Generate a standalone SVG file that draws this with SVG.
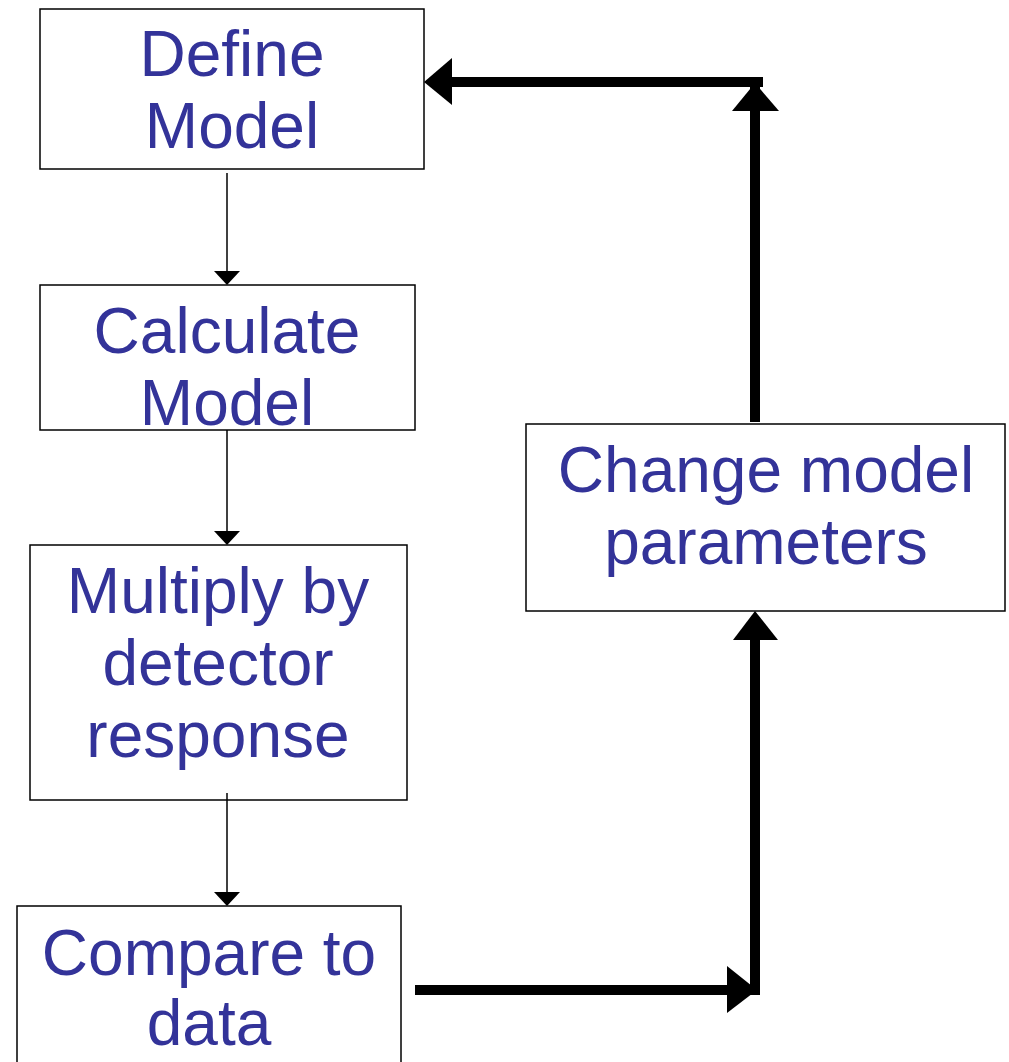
<svg xmlns="http://www.w3.org/2000/svg" width="1009" height="1062" viewBox="0 0 1009 1062">
<style>
.box{fill:#fff;stroke:#000;stroke-width:1.5}
.t{font-family:"Liberation Sans",Arial,sans-serif;font-size:64px;fill:#333399;text-anchor:middle}
.thin{stroke:#000;stroke-width:1.5;fill:none}
.thick{stroke:#000;stroke-width:10;fill:none}
</style>
<rect width="1009" height="1062" fill="#fff"/>
<g id="define"><rect class="box" x="40" y="9" width="384" height="160"/><text class="t" x="232" y="76">Define</text><text class="t" x="232" y="148">Model</text></g>
<g id="calculate"><rect class="box" x="40" y="285" width="375" height="145"/><text class="t" x="227" y="353">Calculate</text><text class="t" x="227" y="425">Model</text></g>
<g id="multiply"><rect class="box" x="30" y="545" width="377" height="255"/><text class="t" x="218" y="613">Multiply by</text><text class="t" x="218" y="685">detector</text><text class="t" x="218" y="757">response</text></g>
<g id="compare"><rect class="box" x="17" y="906" width="384" height="170"/><text class="t" x="209" y="975">Compare to</text><text class="t" x="209" y="1045">data</text></g>
<g id="change"><rect class="box" x="526" y="424" width="479" height="187"/><text class="t" x="766" y="492">Change model</text><text class="t" x="766" y="564">parameters</text></g>
<g id="connectors">
<line class="thin" x1="227" y1="173" x2="227" y2="272"/><polygon points="214,271 240,271 227,285"/>
<line class="thin" x1="227" y1="430" x2="227" y2="532"/><polygon points="214,531 240,531 227,545"/>
<line class="thin" x1="227" y1="793" x2="227" y2="893"/><polygon points="214,892 240,892 227,906"/>
<polyline class="thick" points="415,990 755,990 755,636"/>
<polygon points="727,966 757,990 727,1013"/>
<polygon points="733,640 778,640 755,611"/>
<polyline class="thick" points="755,422 755,82 452,82"/>
<line class="thick" x1="750" y1="82" x2="763" y2="82"/>
<polygon points="452,58 452,105 424,82"/>
<polygon points="732,111 779,111 755,83"/>
</g>
</svg>
